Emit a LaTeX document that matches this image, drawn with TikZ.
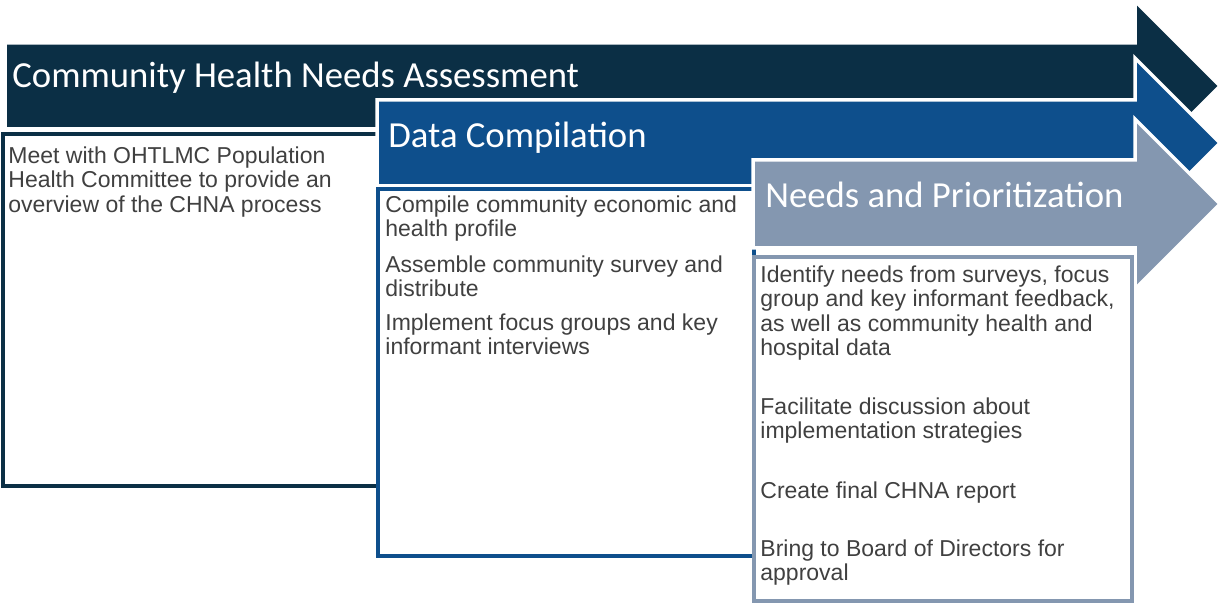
\documentclass[tikz,border=0pt]{standalone}
\usepackage{fontspec}
\setmainfont{Liberation Sans}
\newfontfamily\headfont{Carlito}
\definecolor{navy}{HTML}{0B2F45}
\definecolor{midblue}{HTML}{0E4F8C}
\definecolor{greyblue}{HTML}{8497B0}
\definecolor{bodygrey}{HTML}{404040}
\begin{document}
\begin{tikzpicture}[x=0.5pt,y=-0.5pt,
  band/.style={draw=white,line width=1.75pt,line join=miter},
  panel/.style={fill=white,line width=1.6pt},
  title/.style={anchor=base west,inner sep=0pt,text=white,font=\headfont\fontsize{18.35}{20}\selectfont},
  item/.style={anchor=north west,inner sep=0pt,align=left,text=bodygrey,font=\fontsize{11.5}{12.3}\selectfont}]

\useasboundingbox (0,0) rectangle (1220,603);
\pgfmathsetmacro{\hx}{1135}
\pgfmathsetmacro{\hh}{85}

%ASSESSMENT
\pgfmathsetmacro{\al}{5}
\pgfmathsetmacro{\at}{43}
\pgfmathsetmacro{\ab}{129}
\pgfmathsetmacro{\am}{(\at+\ab)/2}
  \draw[band,fill=navy](\al,\at)--(\hx,\at)--(\hx,\am-\hh)--(\hx+\hh,\am)--(\hx,\am+\hh)--(\hx,\ab)--(\al,\ab)--cycle;
  \draw[panel,draw=navy](3,134) rectangle (378,486);
  \node (assess) at (12,88) [title] {Community Health Needs Assessment};
  \node (meet) at (8,146) [item] {Meet with OHTLMC Population\\Health Committee to provide an\\overview of the CHNA process};

%COMPILATION
\pgfmathsetmacro{\bl}{377}
\pgfmathsetmacro{\bt}{100}
\pgfmathsetmacro{\bb}{186}
\pgfmathsetmacro{\bm}{(\bt+\bb)/2}
  \draw[band,fill=midblue](\bl,\bt)--(\hx,\bt)--(\hx,\bm-\hh)--(\hx+\hh,\bm)--(\hx,\bm+\hh)--(\hx,\bb)--(\bl,\bb)--cycle;
  \draw[panel,draw=midblue](378,189) rectangle (754,556);
  \node (compile) at (388,148) [title] {Data Compilation};
  \node (profile) at (385,195) [item] {Compile community economic and\\health profile};
  \node (survey) at (385,255) [item] {Assemble community survey and\\distribute};
  \node (focus) at (385,313) [item] {Implement focus groups and key\\informant interviews};

%PRIORITIZATION
\pgfmathsetmacro{\cl}{753}
\pgfmathsetmacro{\ct}{160}
\pgfmathsetmacro{\cb}{248}
\pgfmathsetmacro{\cm}{(\ct+\cb)/2}
  \draw[band,fill=greyblue](\cl,\ct)--(\hx,\ct)--(\hx,\cm-\hh)--(\hx+\hh,\cm)--(\hx,\cm+\hh)--(\hx,\cb)--(\cl,\cb)--cycle;
  \draw[panel,draw=greyblue](754,257) rectangle (1132,601);
  \node (needs) at (765,208) [title] {Needs and Prioritization};
  \node (identify) at (760,265) [item] {Identify needs from surveys, focus\\group and key informant feedback,\\as well as community health and\\hospital data};
  \node (discuss) at (760,397) [item] {Facilitate discussion about\\implementation strategies};
  \node (report) at (760,481) [item] {Create final CHNA report};
  \node (board) at (760,539) [item] {Bring to Board of Directors for\\approval};
\end{tikzpicture}
\end{document}
